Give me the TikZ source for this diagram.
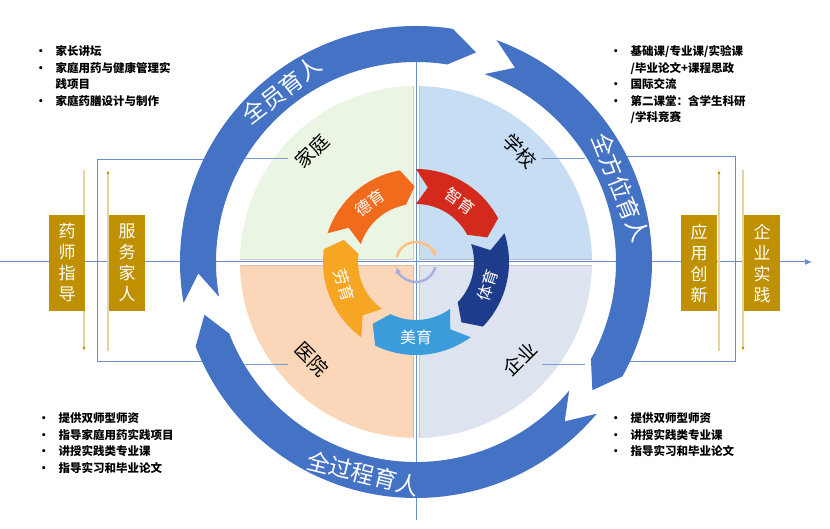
\documentclass[tikz,border=0pt]{standalone}
\usepackage{fontspec}
\newfontfamily\cjk{Noto Sans CJK SC}
\usetikzlibrary{calc,arrows.meta}
\definecolor{ringblue}{HTML}{4472C4}
\definecolor{gold}{HTML}{BF9000}
\definecolor{goldl}{HTML}{E8D3A0}
\definecolor{qtl}{HTML}{EBF5E3}
\definecolor{qtr}{HTML}{C6DDF3}
\definecolor{qbl}{HTML}{FBD6B8}
\definecolor{qbr}{HTML}{DDE4EF}
\definecolor{cde}{HTML}{F26B1D}
\definecolor{czhi}{HTML}{D42A1E}
\definecolor{cti}{HTML}{1E3C8C}
\definecolor{cmei}{HTML}{3B9CDC}
\definecolor{clao}{HTML}{F6A623}
\newcommand\ringarrow[7]{% tail head rin rout rmid d style
\fill[#7] ($(C)+(#1:#4pt)$) arc[start angle=#1,end angle={#2+#6},radius=#4pt]
 -- ($(C)+(#2:#5pt)$) -- ($(C)+({#2+#6}:#3pt)$)
 arc[start angle={#2+#6},end angle=#1,radius=#3pt]
 -- ($(C)+({#1-#6}:#5pt)$) -- cycle;}
\begin{document}
\begin{tikzpicture}[x=1pt,y=1pt,
  txt/.style={font=\cjk\bfseries\fontsize{11.5}{16.5}\selectfont,align=left,anchor=north west,inner sep=0pt},
  gbox/.style={fill=gold,text=white,font=\cjk\fontsize{17}{21}\selectfont,minimum width=36pt,minimum height=96pt,inner sep=0pt,align=center},
  garrow/.style={draw=goldl,line width=1.2pt,-{Latex[length=4pt,width=3pt,color=gold]}},
  blueline/.style={draw=ringblue!80,line width=1pt},
  ql/.style={font=\cjk\fontsize{19}{19}\selectfont,text=black,inner sep=1pt},
  rl/.style={font=\cjk\fontsize{16}{16}\selectfont,text=white,inner sep=1pt},
  ol/.style={font=\cjk\fontsize{23}{23}\selectfont,text=white}]
\useasboundingbox (0,0) rectangle (830,529);
\coordinate (C) at (416,267);
% axes
\draw[blueline,-{Latex[length=7pt,width=6pt]}] (0,267) -- (812,267);
% brackets
\draw[blueline] (210,369) -- (97,369) -- (97,167) -- (212,167);
\draw[blueline] (622,372) -- (735,372) -- (735,167) -- (622,167);
% quadrants
\begin{scope}
\clip (C) circle (176pt);
\filldraw[fill=qtl,draw=qtl!70!gray,line width=0.6pt] ($(C)+(-3,3)$) rectangle ($(C)+(-190,190)$);
\filldraw[fill=qtr,draw=qtr!70!gray,line width=0.6pt] ($(C)+(3,3)$) rectangle ($(C)+(190,190)$);
\filldraw[fill=qbl,draw=qbl!70!gray,line width=0.6pt] ($(C)+(-3,-3)$) rectangle ($(C)+(-190,-190)$);
\filldraw[fill=qbr,draw=qbr!70!gray,line width=0.6pt] ($(C)+(3,-3)$) rectangle ($(C)+(190,-190)$);
\end{scope}
\draw[blueline] (416,470) -- (416,9);
\draw[blueline] (0,267) -- (800,267);
% label lines
\draw[ringblue!70,line width=0.6pt] (245,371) -- (288,371) (542,371) -- (585,371)
  (245,165) -- (288,165) (542,165) -- (585,165);
% outer ring
\ringarrow{190}{74}{200}{236}{218}{7}{ringblue}
\ringarrow{70}{-36}{200}{236}{218}{7}{ringblue}
\ringarrow{-40}{-166}{200}{236}{218}{7}{ringblue}
\node[ol,rotate=38] (r1) at ($(C)+(128:218pt)$) {全员育人};
\node[ol,rotate=-68] (r2) at ($(C)+(20:218pt)$) {全方位育人};
\node[ol,rotate=-14] (r3) at ($(C)+(-104:218pt)$) {全过程育人};
% inner ring
\ringarrow{162}{91}{58}{93}{75.5}{9}{cde}
\ringarrow{90}{19}{58}{93}{75.5}{9}{czhi}
\ringarrow{18}{-53}{58}{93}{75.5}{9}{cti}
\ringarrow{-54}{-125}{58}{93}{75.5}{9}{cmei}
\ringarrow{-126}{-197}{58}{93}{75.5}{9}{clao}
\node[rl,rotate=36] (de) at ($(C)+(128:75pt)$) {德育};
\node[rl,rotate=-36] (zhi) at ($(C)+(54:75pt)$) {智育};
\node[rl,rotate=72] (ti) at ($(C)+(-18:75pt)$) {体育};
\node[rl] (mei) at ($(C)+(-90:75pt)$) {美育};
\node[rl,rotate=-72] (lao) at ($(C)+(-162:75pt)$) {劳育};
% center arrows
\draw[line width=2.5pt,draw=orange!50,-{Latex[length=6pt,width=7pt]}] ($(C)+(165:20pt)$) arc[start angle=165,end angle=15,radius=20pt];
\draw[line width=2.5pt,draw=cyan!30!blue!35,-{Latex[length=6pt,width=7pt]}] ($(C)+(-15:20pt)$) arc[start angle=-15,end angle=-165,radius=20pt];
% quadrant labels
\node[ql,rotate=45] (jt) at (312,378) {家庭};
\node[ql,rotate=-45] (xx) at (520,378) {学校};
\node[ql,rotate=-45] (yy) at (312,170) {医院};
\node[ql,rotate=45] (qy) at (520,170) {企业};
% gold arrows & boxes
\draw[garrow] (84,359) -- (84,178);
\draw[garrow] (108,178) -- (108,359);
\draw[garrow] (719,178) -- (719,359);
\draw[garrow] (743,359) -- (743,178);
\node[gbox] (b1) at (67,266) {药\\师\\指\\导};
\node[gbox] (b2) at (127,266) {服\\务\\家\\人};
\node[gbox] (b3) at (699,266) {应\\用\\创\\新};
\node[gbox] (b4) at (762,266) {企\\业\\实\\践};
% texts
\node[txt] (t1) at (35,485) {\begin{tabular}{@{}l@{\hspace{9pt}}l@{}}•&家长讲坛\\•&家庭用药与健康管理实\\&践项目\\•&家庭药膳设计与制作\end{tabular}};
\node[txt] (t2) at (610,485) {\begin{tabular}{@{}l@{\hspace{9pt}}l@{}}•&基础课/专业课/实验课\\&/毕业论文+课程思政\\•&国际交流\\•&第二课堂：含学生科研\\&/学科竞赛\end{tabular}};
\node[txt] (t3) at (38,118) {\begin{tabular}{@{}l@{\hspace{9pt}}l@{}}•&提供双师型师资\\•&指导家庭用药实践项目\\•&讲授实践类专业课\\•&指导实习和毕业论文\end{tabular}};
\node[txt] (t4) at (610,118) {\begin{tabular}{@{}l@{\hspace{9pt}}l@{}}•&提供双师型师资\\•&讲授实践类专业课\\•&指导实习和毕业论文\end{tabular}};
\end{tikzpicture}
\end{document}
